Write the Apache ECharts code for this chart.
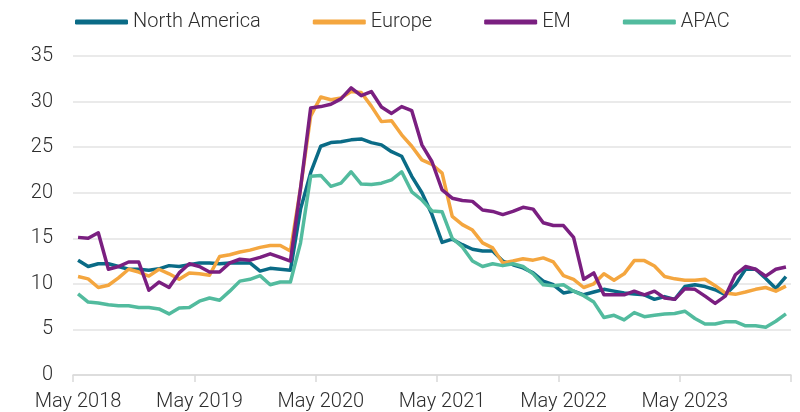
<!DOCTYPE html>
<html>
<head>
<meta charset="utf-8">
<script src="https://cdn.jsdelivr.net/npm/echarts@6/dist/echarts.min.js"></script>
<style>
html,body{margin:0;padding:0;background:#fff;}
#echart_main{width:800px;height:412px;}
</style>
</head>
<body>
<div id="echart_main"></div>
<script>
// monthly points, May 2018 onwards
var month_names=["Jan","Feb","Mar","Apr","May","Jun","Jul","Aug","Sep","Oct","Nov","Dec"];
var start_month=4, start_year=2018, n_points=71;
var ary_date=[];
for(var i=0;i<n_points;i++){
	var m=(start_month+i)%12;
	var y=start_year+Math.floor((start_month+i)/12);
	ary_date.push(month_names[m]+" "+y);
}

var ary_na=[12.6,11.9,12.2,12.2,11.9,11.6,11.6,11.5,11.65,12.0,11.9,12.1,
	12.3,12.3,12.2,12.3,12.3,12.3,11.4,11.7,11.6,11.5,18.2,22.2,
	25.1,25.5,25.6,25.8,25.9,25.5,25.25,24.5,24.0,21.8,20.0,17.6,
	14.55,14.9,14.3,13.8,13.6,13.6,12.5,12.1,11.75,11.2,10.3,9.9,
	9.0,9.2,8.8,9.1,9.4,9.2,9.0,8.9,8.8,8.3,8.6,8.3,
	9.7,9.9,9.7,9.35,8.8,9.9,11.6,11.6,10.6,9.5,10.8];
var ary_eu=[10.8,10.55,9.6,9.85,10.65,11.6,11.3,10.85,11.6,11.1,10.5,11.2,
	11.1,10.95,13.0,13.2,13.5,13.7,14.0,14.2,14.2,13.6,20.5,28.4,
	30.5,30.2,30.4,31.1,31.0,29.5,27.8,27.9,26.35,25.1,23.6,23.1,
	22.15,17.4,16.5,15.9,14.5,13.95,12.3,12.5,12.75,12.6,12.85,12.4,
	10.9,10.5,9.6,10.0,11.1,10.4,11.1,12.55,12.55,11.95,10.8,10.55,
	10.4,10.4,10.5,9.8,9.0,8.85,9.1,9.4,9.6,9.2,9.75];
var ary_em=[15.1,15.0,15.6,11.6,11.9,12.4,12.4,9.3,10.2,9.6,11.2,12.2,
	11.9,11.3,11.3,12.3,12.7,12.6,12.9,13.3,12.9,12.5,20.5,29.3,
	29.45,29.7,30.3,31.5,30.65,31.1,29.4,28.7,29.45,29.0,25.25,23.4,
	20.3,19.4,19.15,19.05,18.1,17.95,17.6,17.95,18.4,18.2,16.7,16.4,
	16.4,15.1,10.5,11.2,8.8,8.8,8.8,9.2,8.8,9.2,8.45,8.3,
	9.45,9.4,8.65,7.85,8.65,11.0,11.9,11.6,10.85,11.6,11.85];
var ary_apac=[8.9,8.0,7.9,7.7,7.6,7.6,7.4,7.4,7.25,6.7,7.35,7.4,
	8.1,8.45,8.2,9.2,10.3,10.5,10.9,9.9,10.2,10.2,14.5,21.8,
	21.9,20.7,21.05,22.3,20.95,20.9,21.05,21.4,22.3,20.1,19.2,18.0,
	17.9,15.0,14.05,12.5,11.9,12.2,12.0,12.2,11.9,11.1,9.9,9.8,
	9.9,9.2,8.7,8.0,6.3,6.55,6.05,6.85,6.4,6.55,6.7,6.75,
	7.0,6.2,5.6,5.6,5.85,5.85,5.4,5.4,5.25,5.9,6.7];

var names=["North America","Europe","EM","APAC"];
var colors=["#0a6b86","#f4a63f","#7a1f80","#52bb9e"];
var y_ticks=[0,5,10,15,20,25,30,35];

var font="Roboto, 'Liberation Sans', sans-serif";
var myChart=echarts.init(document.getElementById('echart_main'));
var all_data=[ary_na,ary_eu,ary_em,ary_apac];
var series=[];
for(var s=0;s<names.length;s++){
	series.push({
		name:names[s],
		type:'line',
		data:all_data[s],
		symbol:'none',
		smooth:false,
		lineStyle:{width:3.5,color:colors[s],join:'round'},
		itemStyle:{color:colors[s]}
	});
}
var option={
	animation:false,
	color:colors,
	legend:{
		left:70,
		top:7,
		icon:'roundRect',
		itemWidth:53,
		itemHeight:5,
		itemGap:52,
		textStyle:{fontFamily:font,fontSize:20,fontWeight:300,color:'#2e2e2e'},
		data:names
	},
	grid:{left:73,right:9,top:56,bottom:36.5,containLabel:false},
	xAxis:[{
		type:'category',
		boundaryGap:true,
		data:ary_date,
		axisLine:{lineStyle:{color:'#d9d9d9',width:1.5}},
		axisTick:{show:true,length:7,lineStyle:{color:'#d9d9d9',width:1.5},
			interval:function(idx){return idx%12===0 && idx<n_points;}},
		axisLabel:{interval:11,margin:17,fontFamily:font,fontSize:20,fontWeight:300,color:'#2e2e2e'},
		splitLine:{show:false}
	}],
	yAxis:[{
		type:'value',
		min:y_ticks[0],
		max:y_ticks[y_ticks.length-1],
		interval:5,
		axisLine:{show:false},
		axisTick:{show:false},
		axisLabel:{margin:20,fontFamily:font,fontSize:20,fontWeight:300,color:'#2e2e2e'},
		splitLine:{lineStyle:{color:'#e3e3e3',width:1.5}}
	}],
	series:series
};
myChart.setOption(option);
</script>
</body>
</html>
